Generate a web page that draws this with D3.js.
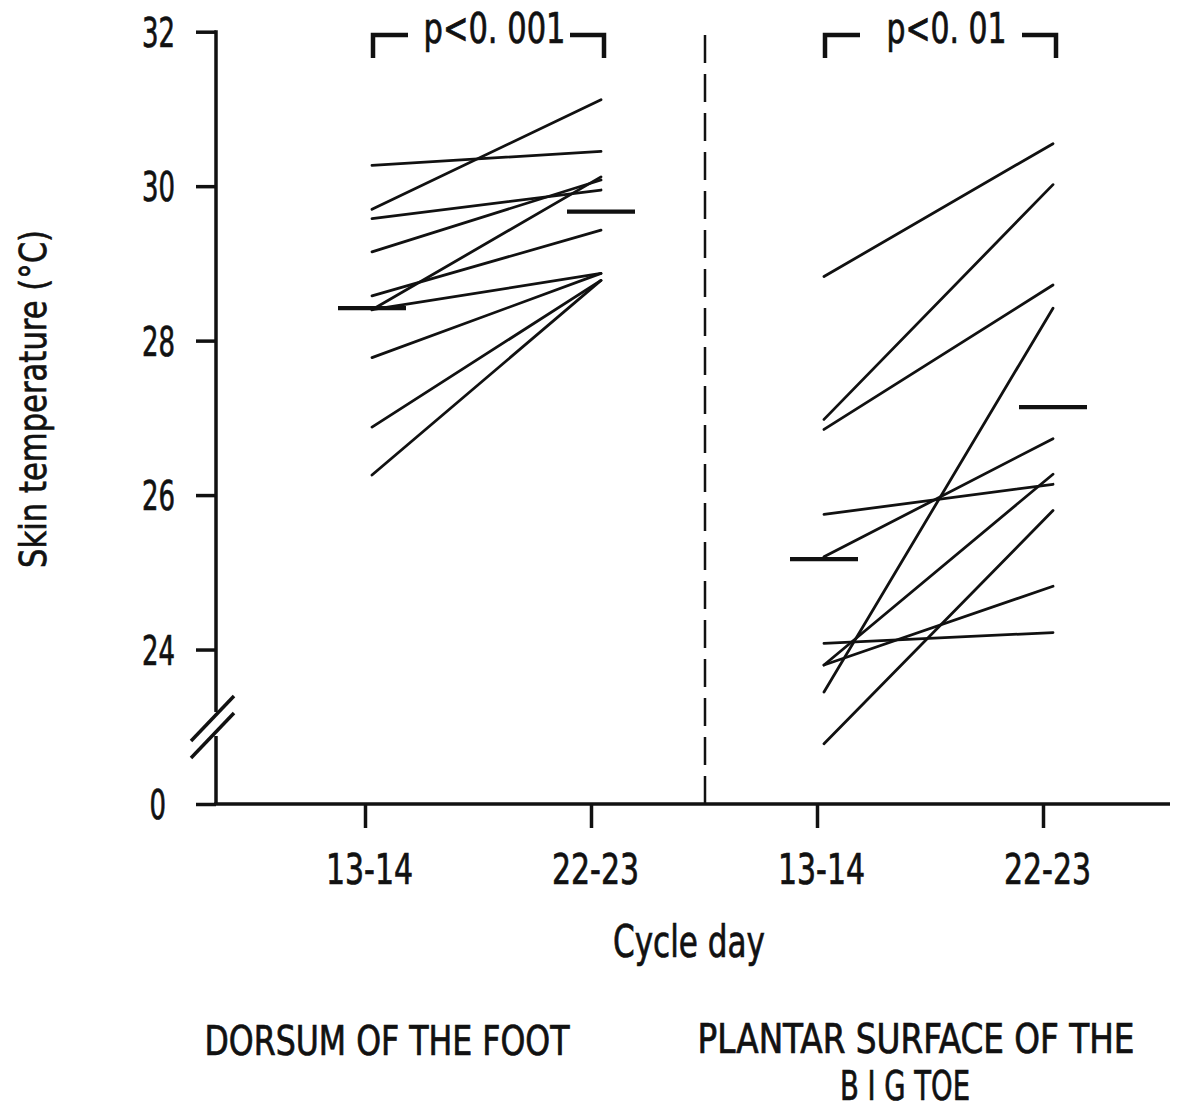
<!DOCTYPE html>
<html>
<head>
<meta charset="utf-8">
<script src="https://cdn.jsdelivr.net/npm/d3@7"></script>
<style>
  html, body { margin: 0; padding: 0; background: #fff; }
  svg { display: block; }
  text { font-family: "DejaVu Sans Condensed", "Liberation Sans Narrow", sans-serif; fill: #111; stroke: #111; stroke-width: 0.7px; }
</style>
</head>
<body>
<svg id="chart" width="1193" height="1112"></svg>
<script>
// ---------- data ----------
const xCategories = ["13-14", "22-23", "13-14 ", "22-23 "];   // day tick labels (left group, right group)
const groupNames = ["DORSUM OF THE FOOT", "PLANTAR SURFACE OF THE", "B I G TOE"];
const pLabels = ["p<0. 001", "p<0. 01"];

// Dorsum of the foot, skin temperature (°C) per subject
const dorsumDay13 = [29.70, 30.27, 29.58, 29.15, 28.40, 28.58, 28.40, 27.78, 26.88, 26.26];
const dorsumDay22 = [31.12, 30.45, 29.95, 30.08, 30.12, 29.43, 28.87, 28.87, 28.78, 28.78];
const dorsumMeans = [28.42, 29.67];

// Plantar surface of the big toe
const plantarDay13 = [28.83, 26.98, 26.85, 23.45, 25.75, 25.20, 24.08, 23.80, 23.80, 22.78];
const plantarDay22 = [30.55, 30.02, 28.72, 28.42, 26.14, 26.73, 24.22, 26.27, 24.82, 25.80];
const plantarMeans = [25.17, 27.14];

const yTickValues = [22, 24, 26, 28, 30, 32];
const yTickLabels = ["0", "24", "26", "28", "30", "32"];

// ---------- layout ----------
const svg = d3.select("#chart");
svg.append("rect").attr("width", 1193).attr("height", 1112).attr("fill", "#fff");

const axisX = 216, baseY = 804;
const y = d3.scaleLinear().domain([22, 32]).range([804, 31.7]);
const x = d3.scalePoint().domain(xCategories).range([365, 1043]);
const lineOffset = 7;
const ink = "#111";

function fitText(sel, len) {
  sel.attr("textLength", len).attr("lengthAdjust", "spacingAndGlyphs");
}

// ---------- y axis ----------
const yAxis = d3.axisLeft(y).tickValues(yTickValues)
  .tickFormat((d, i) => yTickLabels[i]).tickSize(20).tickPadding(21);
const gy = svg.append("g").attr("transform", `translate(${axisX},0)`).call(yAxis);
gy.select(".domain").remove();
gy.selectAll(".tick line").attr("stroke", ink).attr("stroke-width", 3.5);
gy.selectAll(".tick text").attr("font-size", 41).attr("dy", "0.36em")
  .style("font-family", '"DejaVu Sans Condensed", sans-serif')
  .attr("fill", ink)
  .attr("dx", (d, i) => yTickLabels[i].length === 1 ? -9 : 0)
  .each(function (d, i) { fitText(d3.select(this), yTickLabels[i].length * 16.5); });

// axis line with break
const breakTop = 712, breakBot = 736;
svg.append("line").attr("x1", axisX).attr("x2", axisX).attr("y1", y(32) - 1.5).attr("y2", breakTop)
  .attr("stroke", ink).attr("stroke-width", 3.5);
svg.append("line").attr("x1", axisX).attr("x2", axisX).attr("y1", breakBot).attr("y2", baseY)
  .attr("stroke", ink).attr("stroke-width", 3.5);
[0, 17].forEach(dy => {
  svg.append("line").attr("x1", axisX - 25).attr("y1", 741 + dy)
    .attr("x2", axisX + 18).attr("y2", 696 + dy)
    .attr("stroke", ink).attr("stroke-width", 3.5);
});

// ---------- x axis ----------
const xAxis = d3.axisBottom(x).tickSize(24).tickPadding(25).tickFormat(d => d.trim());
const gx = svg.append("g").attr("transform", `translate(0,${baseY})`).call(xAxis);
gx.select(".domain").remove();
gx.selectAll(".tick line").attr("stroke", ink).attr("stroke-width", 3.5);
gx.selectAll(".tick text").attr("font-size", 42).attr("dy", "0.73em").attr("dx", 4)
  .style("font-family", '"DejaVu Sans Condensed", sans-serif')
  .attr("fill", ink)
  .each(function () { fitText(d3.select(this), 87); });
svg.append("line").attr("x1", axisX - 1.75).attr("x2", 1170).attr("y1", baseY).attr("y2", baseY)
  .attr("stroke", ink).attr("stroke-width", 3.5);

// dashed separator
const sepX = (x(xCategories[1]) + x(xCategories[2])) / 2 + 1;
svg.append("line").attr("x1", sepX).attr("x2", sepX).attr("y1", 35).attr("y2", baseY)
  .attr("stroke", ink).attr("stroke-width", 2.5).attr("stroke-dasharray", "28,11");

// ---------- data lines ----------
const groups = [
  { a: dorsumDay13, b: dorsumDay22, means: dorsumMeans, c0: xCategories[0], c1: xCategories[1], p: pLabels[0], pw: 142 },
  { a: plantarDay13, b: plantarDay22, means: plantarMeans, c0: xCategories[2], c1: xCategories[3], p: pLabels[1], pw: 120 }
];

groups.forEach(g => {
  const x0 = x(g.c0) + lineOffset, x1 = x(g.c1) + lineOffset + 3;
  svg.append("g").selectAll("line").data(g.a.map((v, i) => [v, g.b[i]])).join("line")
    .attr("x1", x0).attr("x2", x1)
    .attr("y1", d => y(d[0])).attr("y2", d => y(d[1]))
    .attr("stroke", ink).attr("stroke-width", 2.8).attr("stroke-linecap", "round");
  // mean bars
  [[x0, g.means[0]], [x1, g.means[1]]].forEach(([cx, m]) => {
    svg.append("line").attr("x1", cx - 34).attr("x2", cx + 34)
      .attr("y1", y(m)).attr("y2", y(m))
      .attr("stroke", ink).attr("stroke-width", 4.2);
  });
  // significance bracket
  const bl = x(g.c0) + 8, br = x(g.c1) + 13, by = 35;
  const bp = d3.path();
  bp.moveTo(bl, by + 23); bp.lineTo(bl, by); bp.lineTo(bl + 35, by);
  bp.moveTo(br - 34, by); bp.lineTo(br, by); bp.lineTo(br, by + 23);
  svg.append("path").attr("d", bp.toString()).attr("fill", "none")
    .attr("stroke", ink).attr("stroke-width", 4.5);
  svg.append("text").attr("x", (bl + br) / 2 + 6).attr("y", 43)
    .attr("text-anchor", "middle").attr("font-size", 42).text(g.p)
    .call(fitText, g.pw);
});

// ---------- axis titles ----------
svg.append("text").attr("transform", "translate(46,399) rotate(-90)")
  .attr("text-anchor", "middle").attr("font-size", 38)
  .style("font-family", '"DejaVu Sans", "Liberation Sans", sans-serif')
  .text("Skin temperature (°C)")
  .call(fitText, 338);

svg.append("text").attr("x", 689).attr("y", 957).attr("text-anchor", "middle")
  .attr("font-size", 44).text("Cycle day").call(fitText, 152);

// group titles
svg.append("text").attr("x", 387).attr("y", 1055).attr("text-anchor", "middle")
  .attr("font-size", 40).text(groupNames[0]).call(fitText, 365);
svg.append("text").attr("x", 916).attr("y", 1053).attr("text-anchor", "middle")
  .attr("font-size", 40).text(groupNames[1]).call(fitText, 437);
svg.append("text").attr("x", 905).attr("y", 1100).attr("text-anchor", "middle")
  .attr("font-size", 40).text(groupNames[2]).call(fitText, 130);
</script>
</body>
</html>
